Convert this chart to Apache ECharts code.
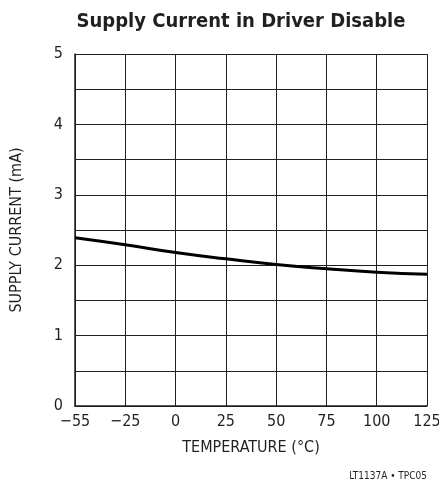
<!DOCTYPE html>
<html lang="en">
<head>
    <meta charset="utf-8">
    <title>Supply Current in Driver Disable</title>
    <style>
        html, body { margin: 0; padding: 0; background: #fff; }
        #main { width: 439px; height: 489px; }
    </style>
</head>
<body>
<div id="main"></div>
<script src="https://cdn.jsdelivr.net/npm/echarts@6/dist/echarts.min.js"></script>
<script>
    // x axis is drawn on equal divisions, labels sit on the grid lines
    var tempLabels = ['\u221255', '\u221225', '0', '25', '50', '75', '100', '125'];
    // curve read at each grid line (division index), supply current in mA
    var gridIndex = [0, 1, 2, 3, 4, 5, 6, 7];
    var supplyCurrent = [2.39, 2.29, 2.18, 2.09, 2.01, 1.95, 1.90, 1.87];

    var font = '"DejaVu Sans Condensed", "Liberation Sans", sans-serif';

    var myChart = echarts.init(document.getElementById('main'));

    var points = [];
    for (var i = 0; i < gridIndex.length; i++) {
        points.push([gridIndex[i], supplyCurrent[i]]);
    }

    var option = {
        animation: false,
        backgroundColor: '#fff',
        title: [
            {
                text: 'Supply Current in Driver Disable',
                left: 236, top: 7, textAlign: 'center',
                textStyle: {fontFamily: font, fontSize: 20, fontWeight: 'bold', color: '#231f20'}
            },
            {
                text: 'LT1137A \u2022 TPC05',
                right: 7, top: 466,
                textStyle: {fontFamily: font, fontSize: 10, fontWeight: 'normal', color: '#231f20'}
            }
        ],
        grid: {left: 75, right: 12, top: 54, bottom: 83, outerBoundsMode: 'none', containLabel: false},
        xAxis: {
            type: 'value',
            min: 0, max: 7, interval: 1,
            name: 'TEMPERATURE (\u00b0C)',
            nameLocation: 'middle',
            nameGap: 34,
            nameTextStyle: {fontFamily: font, fontSize: 16, color: '#231f20'},
            axisLine: {lineStyle: {color: '#231f20', width: 1.5}},
            axisTick: {show: false},
            axisLabel: {
                fontFamily: font, fontSize: 16, color: '#231f20', margin: 8,
                formatter: function (v) { return tempLabels[v]; }
            },
            splitLine: {show: true, lineStyle: {color: '#231f20', width: 1}}
        },
        yAxis: {
            type: 'value',
            min: 0, max: 5, interval: 0.5,
            name: 'SUPPLY CURRENT (mA)',
            nameLocation: 'middle',
            nameGap: 50,
            nameTextStyle: {fontFamily: font, fontSize: 16, color: '#231f20'},
            axisLine: {show: true, lineStyle: {color: '#231f20', width: 1.5}},
            axisTick: {show: false},
            axisLabel: {
                fontFamily: font, fontSize: 16, color: '#231f20', margin: 12,
                formatter: function (v) { return v % 1 === 0 ? String(v) : ''; }
            },
            splitLine: {show: true, lineStyle: {color: '#231f20', width: 1}}
        },
        series: [
            {
                type: 'line',
                data: points,
                smooth: true,
                showSymbol: false,
                lineStyle: {color: '#000', width: 3}
            }
        ]
    };

    myChart.setOption(option);
</script>
</body>
</html>
